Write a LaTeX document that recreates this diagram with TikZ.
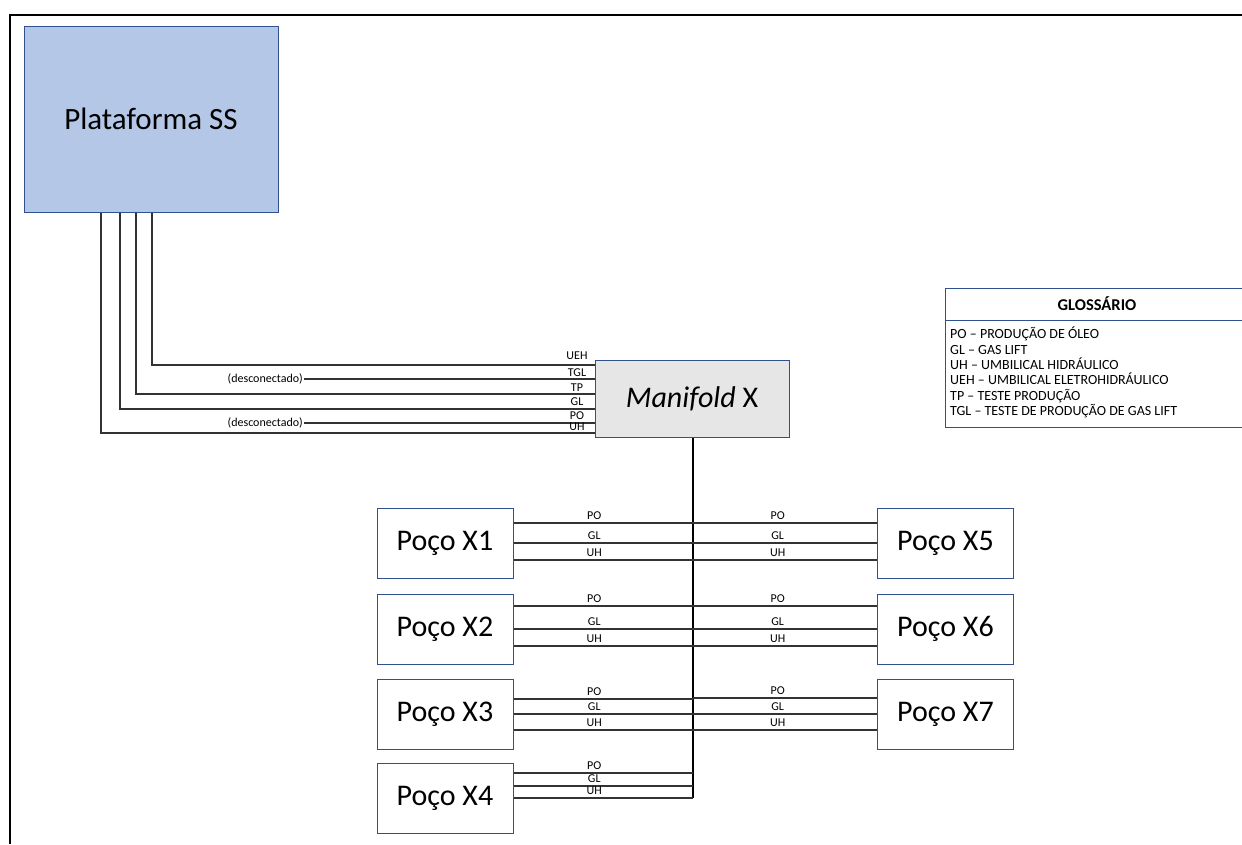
\documentclass[tikz,border=0pt]{standalone}
\usepackage{fontspec}
\setmainfont{Carlito}
\usetikzlibrary{positioning}
\definecolor{bordaazul}{HTML}{2F528F}
\definecolor{azulplat}{HTML}{B4C7E7}
\definecolor{cinzamani}{HTML}{E7E6E6}
\definecolor{cinzalinha}{HTML}{333333}

\tikzset{
    caixa/.style={draw=bordaazul, line width=1pt, inner sep=0pt},
    poco/.style={caixa, fill=white, minimum width=136pt, minimum height=70pt, font=\fontsize{30}{34}\selectfont},
    duto/.style={draw=cinzalinha, line width=1.2pt},
    rotulo/.style={font=\fontsize{12}{13}\selectfont, inner sep=1pt},
    itemglos/.style={font=\fontsize{14}{15}\selectfont, inner sep=0pt, anchor=base west},
}

\begin{document}
\begin{tikzpicture}[x=1pt, y=-1pt]
    \useasboundingbox (0, 0) rectangle (1242, 844);
    % moldura
    \draw[line width=2pt] (10, 844) -- (10, 15) -- (1242, 15);

    % plataforma e manifold
    \node[caixa, fill=azulplat, minimum width=254pt, minimum height=186pt, font=\fontsize{31}{35}\selectfont] (plat) at (151, 119) {Plataforma SS};
    \node[caixa, fill=cinzamani, minimum width=194pt, minimum height=77pt, font=\fontsize{30}{34}\selectfont] (mani) at (692, 398.5) {\textit{Manifold} X};

    % linhas plataforma -> manifold
    \foreach \x/\y in {152/365, 136/394, 120/409, 101/433} {
        \draw[duto] (plat.south -| \x, 0) |- (mani.west |- 0, \y);
    }
    \node[rotulo, anchor=east] (dc1) at (304, 379) {(desconectado)};
    \node[rotulo, anchor=east] (dc2) at (304, 423) {(desconectado)};
    \draw[duto] (dc1.east) -- (mani.west |- dc1.east);
    \draw[duto] (dc2.east) -- (mani.west |- dc2.east);
    \foreach \t/\y in {UEH/359, TGL/376, TP/391, GL/405, PO/419, UH/430} {
        \node[rotulo, anchor=base] (m\t) at (577, \y) {\t};
    }

    % tronco
    \coordinate (fim) at (693, 798);
    \draw[duto, line width=2pt, draw=black] (mani.south -| fim) -- (fim);

    % pocos
    \node[poco] (x1) at (445, 543) {Poço X1};
    \node[poco] (x2) at (445, 629) {Poço X2};
    \node[poco] (x3) at (445, 714.5) {Poço X3};
    \node[poco] (x4) at (445, 798) {Poço X4};
    \node[poco] (x5) at (945.5, 543) {Poço X5};
    \node[poco] (x6) at (945.5, 629) {Poço X6};
    \node[poco] (x7) at (945.5, 714.5) {Poço X7};

    % linhas dos pocos
    \foreach \w/\ya/\yb/\yc in {x1/523/543/560, x2/606/629/646, x3/699/714/730, x4/773/786/798} {
        \foreach \t/\y in {PO/\ya, GL/\yb, UH/\yc} {
            \draw[duto] (\w.east |- 0, \y) -- (fim |- 0, \y) node[rotulo, pos=0.45, above=2pt] (\w\t) {\t};
        }
    }
    \foreach \w/\ya/\yb/\yc in {x5/523/543/560, x6/606/629/646, x7/698/714/730} {
        \foreach \t/\y in {PO/\ya, GL/\yb, UH/\yc} {
            \draw[duto] (fim |- 0, \y) -- (\w.west |- 0, \y) node[rotulo, pos=0.46, above=2pt] (\w\t) {\t};
        }
    }

    % glossario
    \node[caixa, anchor=north west, minimum width=305pt, minimum height=139pt] (glos) at (945, 288) {};
    \draw[draw=bordaazul, line width=1pt] (glos.west |- 0, 320) -- (glos.east |- 0, 320);
    \node[font=\fontsize{16.5}{18}\selectfont\bfseries, inner sep=0pt] (gtit) at (1097, 304) {GLOSSÁRIO};
    \foreach \i/\t/\y in {1/PO – PRODUÇÃO DE ÓLEO/338, 2/GL – GAS LIFT/354, 3/UH – UMBILICAL HIDRÁULICO/369, 4/UEH – UMBILICAL ELETROHIDRÁULICO/384, 5/TP – TESTE PRODUÇÃO/400, 6/TGL – TESTE DE PRODUÇÃO DE GAS LIFT/415} {
        \node[itemglos] (g\i) at (950, \y) {\t};
    }
\end{tikzpicture}
\end{document}
